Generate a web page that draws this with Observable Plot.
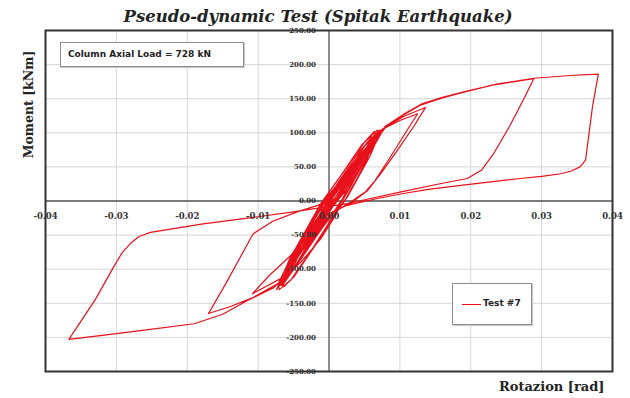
<!DOCTYPE html>
<html>
<head>
<meta charset="utf-8">
<script src="https://cdn.jsdelivr.net/npm/d3@7"></script>
<script src="https://cdn.jsdelivr.net/npm/@observablehq/plot@0.6"></script>
<style>
  html, body { margin: 0; padding: 0; background: #fff; }
  #wrap { position: relative; width: 630px; height: 398px; overflow: hidden; }
  #note { position: absolute; left: 60px; top: 42px; width: 184px; height: 25px; box-sizing: border-box;
    border: 1.5px solid #8c8c8c; box-shadow: 1px 1px 1px #ccc; background: #fff;
    font: bold 9px "DejaVu Sans", sans-serif; color: #222; line-height: 22px; padding-left: 7px; }
  #legend { position: absolute; left: 452px; top: 283px; width: 80px; height: 42px; box-sizing: border-box;
    border: 1.5px solid #8c8c8c; box-shadow: 1px 1px 1px #ccc; background: #fff; }
  #legend .ln { position: absolute; left: 9px; top: 20px; width: 19px; border-top: 1.3px solid #e8101a; }
  #legend .tx { position: absolute; left: 30px; top: 14px; font: bold 9px "DejaVu Sans", sans-serif; color: #222; }
</style>
</head>
<body>
<div id="wrap"></div>
<script>
const titleText = "Pseudo-dynamic Test (Spitak Earthquake)";
const xLabel = "Rotazion [rad]";
const yLabel = "Moment [kNm]";
const noteText = "Column Axial Load = 728 kN";
const seriesName = "Test #7";

const xTicks = [-0.04, -0.03, -0.02, -0.01, 0, 0.01, 0.02, 0.03, 0.04];
const xTickLabels = ["-0.04", "-0.03", "-0.02", "-0.01", "0.00", "0.01", "0.02", "0.03", "0.04"];
const yTicks = [-250, -200, -150, -100, -50, 0, 50, 100, 150, 200, 250];
const yTickLabels = ["-250.00", "-200.00", "-150.00", "-100.00", "-50.00", "0.00", "50.00", "100.00", "150.00", "200.00", "250.00"];

// rotation [rad], moment [kNm]
const smallCycles = [
  [0,0],[0.0015,18],[0.0030,40],[0.0022,26],[0.0008,4],[-0.0005,-10],[-0.0016,-26],[-0.0030,-48],[-0.0022,-30],[-0.0007,-4],
  [0.0005,8],[0.0022,30],[0.0042,58],[0.0032,38],[0.0012,6],[-0.0004,-12],[-0.0020,-34],[-0.0040,-66],[-0.0030,-42],[-0.0010,-6],
  [0.0006,10],[0.0026,38],[0.0050,72],[0.0038,48],[0.0014,8],[-0.0004,-14],[-0.0024,-42],[-0.0048,-84],[-0.0036,-54],[-0.0012,-8],
  [0.0006,10],[0.0030,45],[0.0058,86],[0.0044,58],[0.0016,10],[-0.0004,-16],[-0.0028,-50],[-0.0055,-98],[-0.0042,-64],[-0.0014,-10],
  [0.0006,12],[0.0034,52],[0.0065,95],[0.0050,64],[0.0018,12],[-0.0005,-18],[-0.0030,-56],[-0.0060,-108],[-0.0046,-72],[-0.0015,-12],
  [0.0005,12],[0.0036,56],[0.0070,102],[0.0054,70],[0.0020,14],[-0.0005,-20],[-0.0032,-60],[-0.0066,-118],[-0.0050,-78],[-0.0016,-14],
  [0.0004,12],[0.0038,60],[0.0076,106],[0.0058,72],[0.0022,14],[-0.0006,-22],[-0.0034,-64],[-0.0072,-126],[-0.0055,-84],[-0.0018,-16],
  [0.0004,12],[0.0040,62],[0.0073,104],[0.0056,70],[0.0021,12],[-0.0006,-22],[-0.0035,-66],[-0.0068,-122],[-0.0052,-80],[-0.0017,-14],
  [0.0005,14],[0.0040,64],[0.0078,107],[0.0060,74],[0.0024,16],[-0.0004,-20],[-0.0036,-70],[-0.0074,-130],[-0.0056,-86],[-0.0018,-18]
];
const wideCycles = [
  [0.0008,0],[0.0030,38],[0.0062,90],[0.0074,104],[0.0062,80],[0.0040,40],[0.0022,8],[0.0008,-14],[-0.0020,-52],[-0.0050,-100],
  [-0.0068,-124],[-0.0058,-100],[-0.0038,-60],[-0.0020,-24],[-0.0008,0],
  [0.0012,16],[0.0040,58],[0.0068,98],[0.0058,72],[0.0035,30],[0.0020,4],[0.0004,-20],[-0.0025,-62],[-0.0062,-118],[-0.0050,-88],
  [-0.0030,-44],[-0.0016,-14],[0,8],
  [0.0025,40],[0.0050,80],[0.0072,104],[0.0064,86],[0.0048,56],[0.0030,20],[0.0015,-6],[-0.0010,-40],[-0.0040,-86],[-0.0066,-124],
  [-0.0058,-104],[-0.0044,-72],[-0.0028,-36],[-0.0012,-6],
  [0.0010,22],[0.0036,62],[0.0060,94],[0.0052,76],[0.0034,42],[0.0018,12],[0.0002,-14],[-0.0026,-60],[-0.0054,-106],[-0.0044,-82],
  [-0.0024,-42],[-0.0008,-10],
  [0.0012,26],[0.0044,74],[0.0070,103],[0.0056,78],[0.0038,46],[0.0010,0],[-0.0016,-40],[-0.0046,-92],[-0.0064,-120],[-0.0046,-84],
  [-0.0028,-50],[-0.0010,-14],[0.0004,6],
  [-0.0012,-4],[0.0020,42],[0.0050,86],[0.0068,104],[0.0070,96],[0.0058,66],[0.0042,36],[0.0026,6],[0.0010,-18],[-0.0020,-66],
  [-0.0050,-112],[-0.0070,-130],[-0.0072,-122],[-0.0060,-96],[-0.0042,-62],[-0.0028,-34],[-0.0014,-8],
  [0.0016,36],[0.0046,82],[0.0064,102],[0.0066,94],[0.0054,62],[0.0040,34],[0.0024,4],[0.0006,-22],[-0.0026,-74],
  [-0.0054,-116],[-0.0064,-126],[-0.0064,-116],[-0.0052,-88],[-0.0036,-52],[-0.0020,-20],[-0.0006,4]
];
const loopA = [
  [0.0004,10],[0.0042,66],[0.0077,106],[0.0100,118],[0.0125,128],[0.0108,100],[0.0085,62],[0.0065,30],[0.0052,14],[0.0030,-2],
  [0.0005,-18],[-0.0030,-62],[-0.0065,-112],[-0.0108,-136],[-0.0085,-110],[-0.0054,-80],[-0.0030,-46],[-0.0012,-18],[0.0005,4]
];
const loopB = [
  [0.0042,62],[0.0078,107],[0.0105,124],[0.0136,137],[0.0120,110],[0.0095,72],[0.0073,40],[0.0054,15],[0.0030,-4],[0.0005,-16],
  [-0.0030,-60],[-0.0070,-120],[-0.0108,-142],[-0.0140,-155],[-0.0170,-165],[-0.0145,-120],[-0.0125,-82],[-0.0107,-48],
  [-0.0080,-30],[-0.0045,-16],[-0.0015,-6],[0.0005,4]
];
const loopC = [
  [0.0030,40],[0.0060,82],[0.0080,108],[0.0105,126],[0.0130,141],[0.0160,151],[0.0185,158],[0.0230,170],[0.0289,179.5],
  [0.0275,150],[0.0255,110],[0.0232,69],[0.0215,45],[0.0195,33],[0.0160,26],[0.0105,14],[0.0060,4],[0.0030,-3],[0.0000,-8],
  [-0.0050,-16],[-0.0107,-24],[-0.0180,-34],[-0.0252,-46],[-0.0268,-52],[-0.0280,-62],[-0.0292,-76],[-0.0304,-97],[-0.0330,-145],[-0.0367,-203],
  [-0.0320,-197],[-0.0266,-190],[-0.0190,-180],[-0.0150,-166],[-0.0115,-146],[-0.0078,-127],[-0.0040,-90],[-0.0012,-56],[0.0010,-20]
];
const loopD = [
  [0.0030,30],[0.0060,85],[0.0080,110],[0.0105,127],[0.0130,142],[0.0160,152],[0.0190,160],[0.0240,172],[0.0289,180],
  [0.0340,184],[0.0380,186],[0.0372,140],[0.0362,60],[0.0354,50],[0.0342,44],[0.0327,40],[0.0300,36],[0.0270,33],[0.0195,24],
  [0.0140,17],[0.0105,11],[0.0070,4],[0.0044,-2],[0.0020,-8]
];
const hysteresis = [...smallCycles, ...wideCycles, ...loopA, ...loopB, ...loopC, ...loopD];

const serif = "'DejaVu Serif', serif";

const chart = Plot.plot({
  width: 630,
  height: 398,
  marginLeft: 45,
  marginRight: 18,
  marginTop: 30,
  marginBottom: 27,
  x: { domain: [-0.04, 0.04], axis: null },
  y: { domain: [-250, 250], axis: null },
  style: { background: "#fff", overflow: "visible" },
  marks: [
    Plot.gridX(xTicks, { stroke: "#d6d6d6", strokeOpacity: 1 }),
    Plot.gridY(yTicks, { stroke: "#d6d6d6", strokeOpacity: 1 }),
    Plot.ruleX([0], { stroke: "#8c8c8c", strokeWidth: 2 }),
    Plot.ruleY([0], { stroke: "#555", strokeWidth: 1.6 }),
    Plot.line(hysteresis, { x: d => d[0], y: d => d[1], stroke: "#e8101a", strokeWidth: 1.2, strokeLinejoin: "round" }),
    Plot.text(xTicks, { x: d => d, y: () => 0, text: (d, i) => xTickLabels[i], dy: 15, fontSize: 8.5, fontWeight: "bold", fontFamily: serif, fill: "#333" }),
    Plot.text(yTicks, { x: () => 0, y: d => d, text: (d, i) => yTickLabels[i], dx: -13, textAnchor: "end", fontSize: 7, fontWeight: "bold", fontFamily: serif, fill: "#333" }),
    Plot.frame({ stroke: "#333", strokeWidth: 2 }),
    Plot.text([titleText], { frameAnchor: "top", dx: -11, dy: -14, lineAnchor: "middle", textAnchor: "middle", fontSize: 16.5, fontWeight: "bold", fontStyle: "italic", fontFamily: serif, fill: "#222" }),
    Plot.text([yLabel], { frameAnchor: "top-left", rotate: -90, dx: -17, dy: 74, lineAnchor: "middle", textAnchor: "middle", fontSize: 12.5, fontWeight: "bold", fontFamily: serif, fill: "#222" }),
    Plot.text([xLabel], { frameAnchor: "bottom-right", dx: -8, dy: 15, lineAnchor: "middle", textAnchor: "end", fontSize: 13, fontWeight: "bold", fontFamily: serif, fill: "#222" })
  ]
});

const wrap = document.getElementById("wrap");
wrap.appendChild(chart);
const note = document.createElement("div");
note.id = "note";
note.textContent = noteText;
wrap.appendChild(note);
const legend = document.createElement("div");
legend.id = "legend";
legend.innerHTML = '<div class="ln"></div><div class="tx"></div>';
legend.querySelector(".tx").textContent = seriesName;
wrap.appendChild(legend);
</script>
</body>
</html>
